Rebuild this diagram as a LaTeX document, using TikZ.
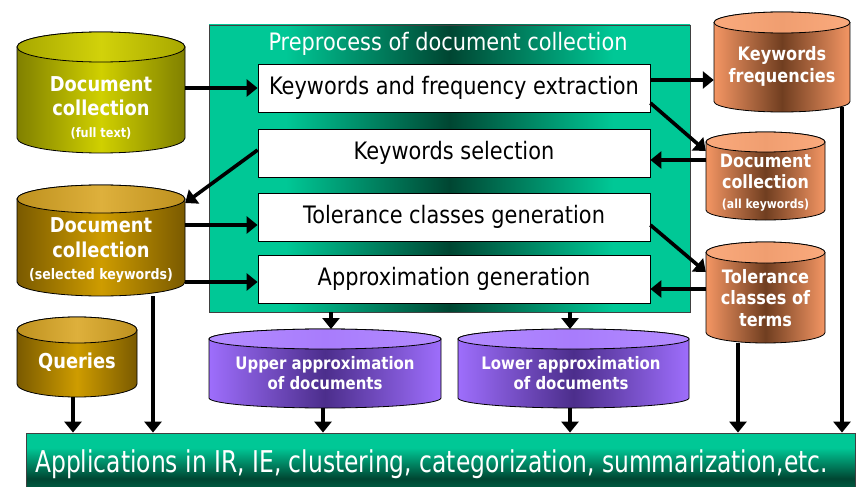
\documentclass[tikz,border=0pt]{standalone}
\usepackage{fontspec}
\setmainfont{DejaVu Sans}[FakeStretch=0.87]
\newfontfamily\barfont{DejaVu Sans}[FakeStretch=0.78]
\usetikzlibrary{arrows.meta}

% palette
\definecolor{tealA}{RGB}{0,200,150}
\definecolor{tealD}{RGB}{0,70,50}
\definecolor{tealM}{RGB}{0,120,88}
\definecolor{olA}{RGB}{128,128,0}
\definecolor{olB}{RGB}{208,208,0}
\definecolor{olC}{RGB}{168,168,0}
\definecolor{olD}{RGB}{210,210,10}
\definecolor{gdA}{RGB}{122,90,0}
\definecolor{gdB}{RGB}{206,156,0}
\definecolor{gdC}{RGB}{190,145,30}
\definecolor{gdD}{RGB}{222,176,60}
\definecolor{smA}{RGB}{244,150,100}
\definecolor{smB}{RGB}{112,62,32}
\definecolor{smC}{RGB}{250,170,125}
\definecolor{smD}{RGB}{240,158,112}
\definecolor{ppA}{RGB}{158,110,252}
\definecolor{ppB}{RGB}{76,46,140}
\definecolor{ppC}{RGB}{180,140,255}
\definecolor{ppD}{RGB}{168,124,252}

% teal panel: bright at the sides, dark in the middle
\pgfdeclarehorizontalshading{panelshade}{100bp}{color(0bp)=(tealA); color(33bp)=(tealA); color(50bp)=(tealD); color(67bp)=(tealA); color(100bp)=(tealA)}
% bottom bar: bright top, dark band low down
\pgfdeclareverticalshading{barshade}{100bp}{color(0bp)=(tealM); color(25bp)=(tealM); color(41bp)=(tealD); color(64bp)=(tealA); color(100bp)=(tealA)}

\tikzset{
  outline/.style={draw=black, line width=0.8pt},
  olive body/.style={outline, left color=olA, right color=olA, middle color=olB},
  olive lid/.style={outline, left color=olC, right color=olC, middle color=olD},
  gold body/.style={outline, left color=gdA, right color=gdA, middle color=gdB},
  gold lid/.style={outline, left color=gdC, right color=gdC, middle color=gdD},
  salmon body/.style={outline, left color=smA, right color=smA, middle color=smB},
  salmon lid/.style={outline, left color=smC, right color=smC, middle color=smD},
  purple body/.style={outline, left color=ppA, right color=ppA, middle color=ppB},
  purple lid/.style={outline, left color=ppC, right color=ppC, middle color=ppD},
  drumtext/.style={text=white, align=center, inner sep=0pt},
  procbox/.style={outline, fill=white, minimum width=392pt, minimum height=48pt,
    inner sep=0pt, font=\fontsize{24}{28}\selectfont},
  panelbox/.style={draw=black!75, line width=0.8pt, shading=panelshade, inner sep=0pt},
  barbox/.style={draw=black!75, line width=0.8pt, shading=barshade, inner sep=0pt},
  arr/.style={line width=3.6pt, -{Triangle[length=11pt,width=17pt]}},
}

% a storage drum: palette, left x, right x, top y, bottom y, lid half-height, name
\newcommand{\drumbody}[7]{%
  \pgfmathsetmacro{\drumcx}{(#2+#3)/2}%
  \pgfmathsetmacro{\drumrx}{(#3-#2)/2}%
  \pgfmathsetmacro{\drumyt}{#4+#6}%
  \pgfmathsetmacro{\drumyb}{#5-#6}%
  \path[#1 body] (#2,\drumyt) -- (#2,\drumyb)
     arc[start angle=180,end angle=360,x radius=\drumrx pt,y radius=#6pt]
     -- (#3,\drumyt)
     arc[start angle=0,end angle=180,x radius=\drumrx pt,y radius=#6pt] -- cycle;
  \path[#1 lid] (\drumcx,\drumyt) ellipse[x radius=\drumrx pt,y radius=#6pt];
  \coordinate (#7-top) at (\drumcx,#4);
  \coordinate (#7-bot) at (\drumcx,#5);
}

\begin{document}
\begin{tikzpicture}[x=1pt,y=-1pt]
\useasboundingbox (0,0) rectangle (860,487);

% preprocessing panel and its steps
\node[panelbox, minimum width=481pt, minimum height=287pt] (pre) at (449.5,168.5) {};
\node[text=white, font=\fontsize{24}{28}\selectfont] (ptitle) at (448,44) {Preprocess of document collection};
\node[procbox] (kfe) at (454,88) {Keywords and frequency extraction};
\node[procbox] (ks) at (454,153) {Keywords selection};
\node[procbox] (tcg) at (454,217) {Tolerance classes generation};
\node[procbox] (ag) at (454,279) {Approximation generation};

% applications bar
\node[barbox, minimum width=829pt, minimum height=67pt] (apps) at (440.5,466.5) {};
\node[text=white, anchor=base west, inner sep=0pt, font=\barfont\fontsize{30}{34}\selectfont]
  (appstext) at (35,472) {Applications in IR, IE, clustering, categorization, summarization,etc.};

% data stores
\drumbody{olive}{17}{185}{32}{153}{15}{doc1}
\node[drumtext, minimum width=168pt, font=\bfseries\fontsize{20.5}{24}\selectfont] (doc1) at (101,108)
  {Document\\collection\\[-2pt]{\fontsize{13}{15}\selectfont (full text)}};

\drumbody{gold}{17}{185}{185}{296}{14}{dsk}
\node[drumtext, minimum width=168pt, font=\bfseries\fontsize{20.5}{25}\selectfont] (dsk) at (101,250)
  {Document\\collection\\[-3pt]{\fontsize{14.5}{17}\selectfont (selected keywords)}};

\drumbody{gold}{17}{137}{317}{397}{13}{qry}
\node[drumtext, minimum width=120pt, font=\bfseries\fontsize{20.5}{24}\selectfont] (qry) at (77,362) {Queries};

\drumbody{salmon}{714}{850}{12}{112}{10.5}{kwf}
\node[drumtext, minimum width=136pt, font=\bfseries\fontsize{18.5}{22}\selectfont] (kwf) at (782,66)
  {Keywords\\frequencies};

\drumbody{salmon}{706}{825}{132}{220}{10}{dca}
\node[drumtext, minimum width=119pt, font=\bfseries\fontsize{18.3}{21}\selectfont] (dca) at (765.5,183)
  {Document\\collection\\[-1pt]{\fontsize{12.5}{14}\selectfont (all keywords)}};

\drumbody{salmon}{706}{825}{242}{343}{10.5}{tct}
\node[drumtext, minimum width=119pt, font=\bfseries\fontsize{18.5}{21.5}\selectfont] (tct) at (765.5,298)
  {Tolerance\\classes of\\terms};

\drumbody{purple}{209}{441}{329}{408}{10}{upa}
\node[drumtext, minimum width=232pt, font=\bfseries\fontsize{17.2}{20}\selectfont] (upa) at (325,373)
  {Upper approximation\\of documents};

\drumbody{purple}{458}{689}{329}{408}{10}{lwa}
\node[drumtext, minimum width=231pt, font=\bfseries\fontsize{17.2}{20}\selectfont] (lwa) at (571,373)
  {Lower approximation\\of documents};

% data flow
\draw[arr] (doc1.east |- kfe.west) -- (kfe.west);
\draw[arr] (kfe.east |- 0,80) -- (kwf.west |- 0,80);
\draw[arr] (kfe.east |- 0,103) -- (dca.west |- 0,151);
\draw[arr] (dca.west |- 0,160) -- (ks.east |- 0,160);
\draw[arr] (ks.west |- 0,150) -- (dsk.east |- 0,203);
\draw[arr] (dsk.east |- 0,225) -- (tcg.west |- 0,225);
\draw[arr] (dsk.east |- 0,282) -- (ag.west |- 0,282);
\draw[arr] (tcg.east |- 0,225) -- (tct.west |- 0,272);
\draw[arr] (tct.west |- 0,289) -- (ag.east |- 0,289);
\draw[arr] (pre.south -| 331,0) -- (upa-top -| 331,0);
\draw[arr] (pre.south -| 570,0) -- (lwa-top -| 570,0);

% into the applications bar
\draw[arr] (qry-bot -| 73,0) -- (apps.north -| 73,0);
\draw[arr] (dsk-bot -| 153,0) -- (apps.north -| 153,0);
\draw[arr] (upa-bot -| 323,0) -- (apps.north -| 323,0);
\draw[arr] (lwa-bot -| 570,0) -- (apps.north -| 570,0);
\draw[arr] (tct-bot -| 738,0) -- (apps.north -| 738,0);
\draw[arr] ([yshift=5pt]kwf-bot -| 842,0) -- (apps.north -| 842,0);
\end{tikzpicture}
\end{document}
